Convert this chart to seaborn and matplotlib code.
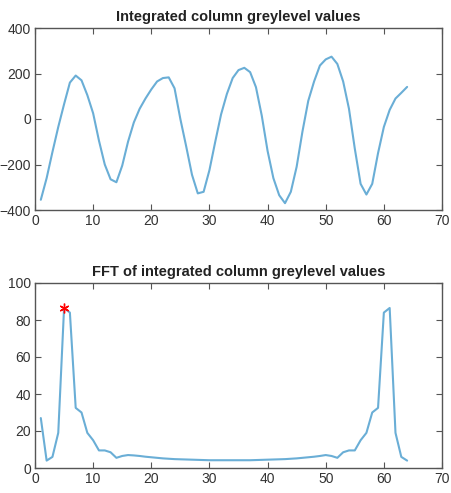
import numpy as np
import matplotlib
matplotlib.use('Agg')
import matplotlib.pyplot as plt
import seaborn as sns

# column index 1..64
columns = list(range(1, 65))

# integrated column greylevel values
greylevel = [-355, -260, -145, -35, 65, 160, 191, 170, 105, 25,
             -95, -200, -265, -278, -205, -100, -15, 45, 90, 130,
             165, 180, 183, 135, 0, -120, -245, -327, -320, -225,
             -100, 20, 110, 180, 215, 225, 206, 140, 15, -140,
             -260, -335, -370, -320, -210, -55, 80, 165, 235, 262,
             274, 242, 165, 45, -130, -285, -332, -285, -150, -35,
             40, 90, 115, 141]

# FFT magnitude
fft_mag = [27, 4, 6, 19, 86.5, 84, 32.5, 30, 19, 15,
           9.5, 9.5, 8.5, 5.5, 6.5, 7, 6.8, 6.5, 6.1, 5.8,
           5.5, 5.2, 5.0, 4.8, 4.7, 4.6, 4.5, 4.4, 4.3, 4.2,
           4.2, 4.2, 4.2, 4.2, 4.2, 4.2, 4.2, 4.3, 4.4, 4.5,
           4.6, 4.7, 4.8, 5.0, 5.2, 5.5, 5.8, 6.1, 6.5, 7,
           6.5, 5.5, 8.5, 9.5, 9.5, 15, 19, 30, 32.5, 84,
           86.5, 19, 6, 4]

peak_x = 5
peak_y = 86.5

sns.set_theme(style='white')
plt.rcParams['font.family'] = ['Liberation Sans', 'DejaVu Sans']

line_color = '#6aaed6'
axis_color = '#555555'

fig = plt.figure(figsize=(4.51, 4.93), dpi=100)
ax1 = fig.add_axes([35 / 451, 1 - 210 / 493, 407 / 451, 182 / 493])
ax2 = fig.add_axes([35 / 451, 1 - 468 / 493, 407 / 451, 185 / 493])

sns.lineplot(x=columns, y=greylevel, ax=ax1, color=line_color, linewidth=1.5)
ax1.set_xlim(0, 70)
ax1.set_ylim(-400, 400)
ax1.set_yticks([-400, -200, 0, 200, 400])
ax1.set_xticks(range(0, 71, 10))
ax1.set_title('Integrated column greylevel values', fontsize=10.5,
              fontweight='bold', color='#222222', pad=5)

sns.lineplot(x=columns, y=fft_mag, ax=ax2, color=line_color, linewidth=1.5)
ax2.plot([peak_x], [peak_y], marker=(6, 2, 0), color='red', markersize=7,
         markeredgewidth=1.0, linestyle='none')
ax2.set_xlim(0, 70)
ax2.set_ylim(0, 100)
ax2.set_yticks(range(0, 101, 20))
ax2.set_xticks(range(0, 71, 10))
ax2.set_title('FFT of integrated column greylevel values', fontsize=10.5,
              fontweight='bold', color='#222222', pad=5)

for ax in (ax1, ax2):
    ax.set_xlabel('')
    ax.set_ylabel('')
    for s in ax.spines.values():
        s.set_color(axis_color)
        s.set_linewidth(1.0)
    ax.tick_params(direction='in', length=4, width=0.8, color=axis_color,
                   labelsize=10, labelcolor='#333333', top=True, right=True,
                   bottom=True, left=True, pad=3)

fig.savefig('out.png', dpi=100)
